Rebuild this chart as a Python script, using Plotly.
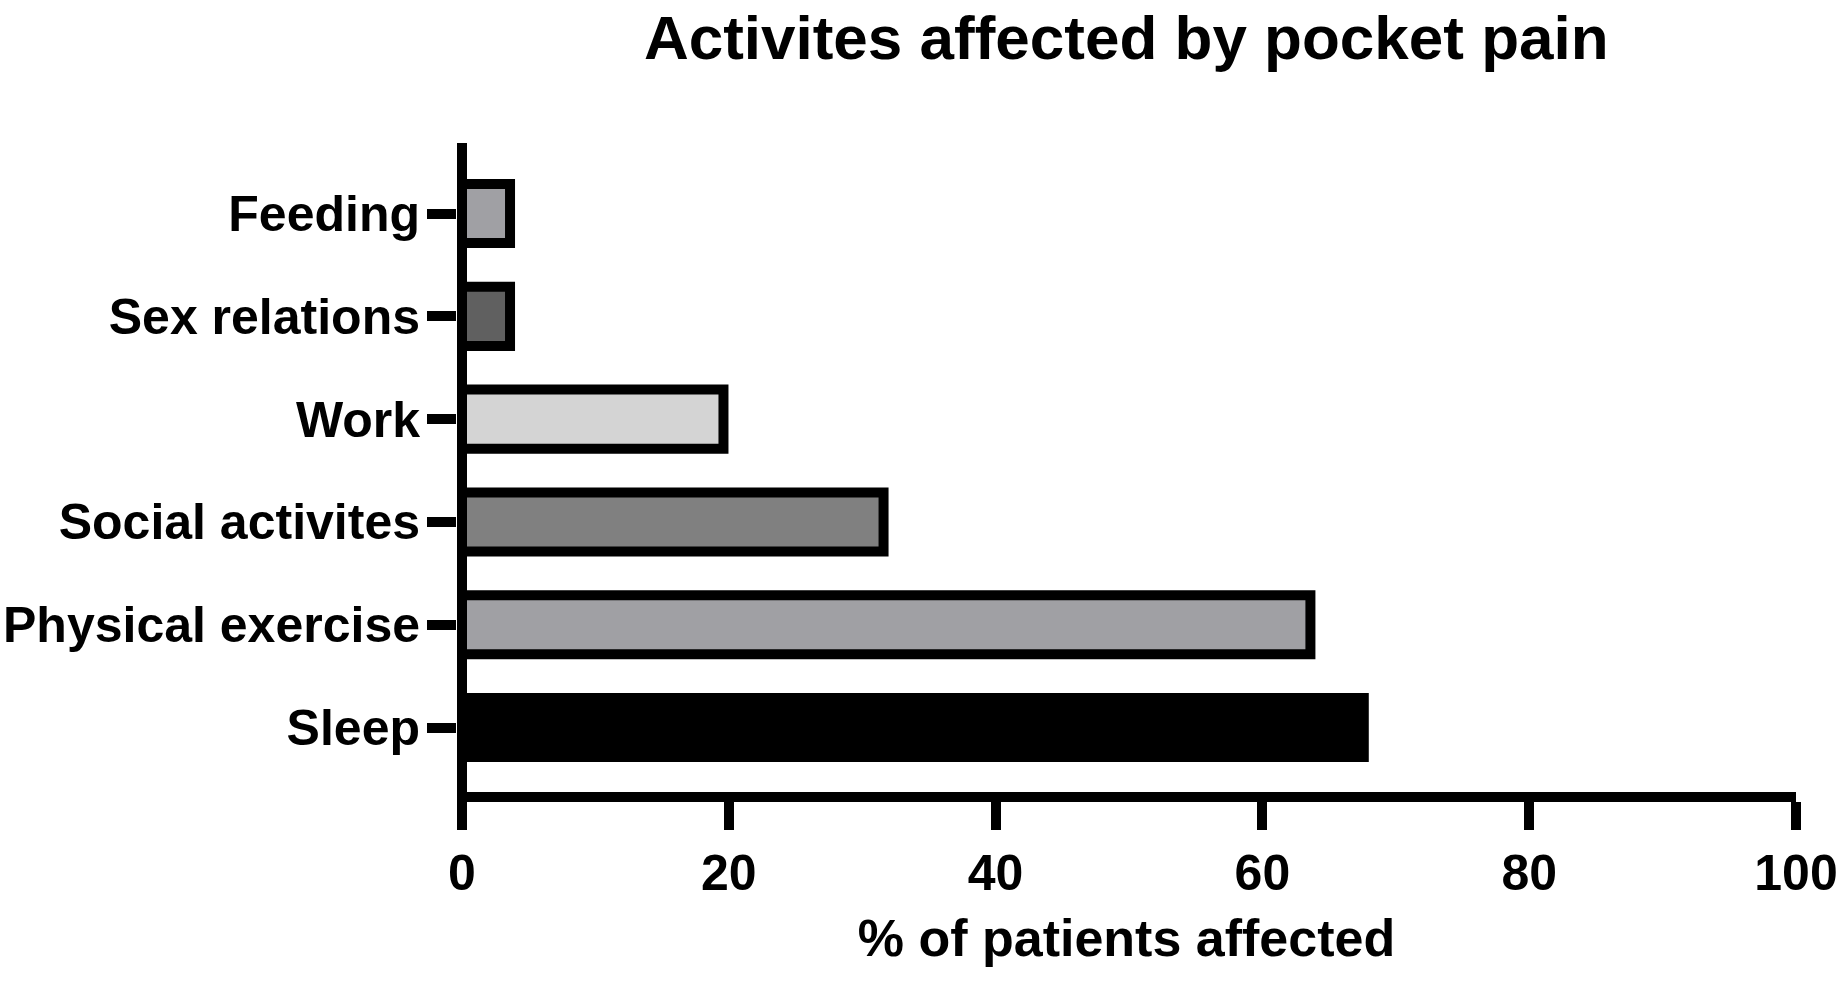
import plotly.graph_objects as go

categories = ["Sleep", "Physical exercise", "Social activites", "Work", "Sex relations", "Feeding"]
values = [67.6, 63.6, 31.6, 19.6, 3.6, 3.6]
fill_colors = ["#000000", "#a0a0a4", "#808080", "#d4d4d4", "#606060", "#a0a0a4"]
x_ticks = [0, 20, 40, 60, 80, 100]

title_text = "Activites affected by pocket pain"
x_title = "% of patients affected"

FONT = "Liberation Sans, Arial, sans-serif"

fig = go.Figure()
fig.add_trace(go.Bar(
    x=values,
    y=categories,
    orientation="h",
    width=0.575,
    marker=dict(color=fill_colors, line=dict(color="#000000", width=10)),
    hoverinfo="skip",
))

fig.update_layout(
    width=1841,
    height=981,
    paper_bgcolor="white",
    plot_bgcolor="white",
    showlegend=False,
    margin=dict(l=456.5, r=45, t=143, b=189, pad=0, autoexpand=False),
    font=dict(family=FONT, color="#000000", weight="bold"),
    title=dict(
        text=title_text,
        x=(456.5 + 1796) / 2 / 1841,
        xanchor="center",
        y=1 - 37 / 981,
        yanchor="middle",
        yref="container",
        font=dict(family=FONT, size=62, color="#000000", weight="bold"),
    ),
)

fig.update_xaxes(
    range=[-0.375, 100],
    tickvals=x_ticks,
    ticktext=[str(v) for v in x_ticks],
    automargin=False,
    showgrid=False,
    showline=True,
    linewidth=10,
    linecolor="#000000",
    zeroline=True,
    zerolinewidth=10,
    zerolinecolor="#000000",
    ticks="outside",
    ticklen=28,
    tickwidth=10,
    tickcolor="#000000",
    tickfont=dict(family=FONT, size=50, color="#000000", weight="bold"),
    title=dict(text=x_title, standoff=24,
               font=dict(family=FONT, size=52, color="#000000", weight="bold")),
)

fig.update_yaxes(
    type="category",
    categoryorder="array",
    categoryarray=categories,
    range=[-0.627, 5.686],
    automargin=False,
    showgrid=False,
    showline=False,
    zeroline=False,
    ticks="outside",
    ticklen=29,
    tickwidth=10,
    tickcolor="#000000",
    ticklabelstandoff=-3,
    tickfont=dict(family=FONT, size=50, color="#000000", weight="bold"),
)

fig.write_html(
    "out.html",
    config={"displayModeBar": False},
    post_script="document.body.style.margin='0';document.body.style.padding='0';",
)
